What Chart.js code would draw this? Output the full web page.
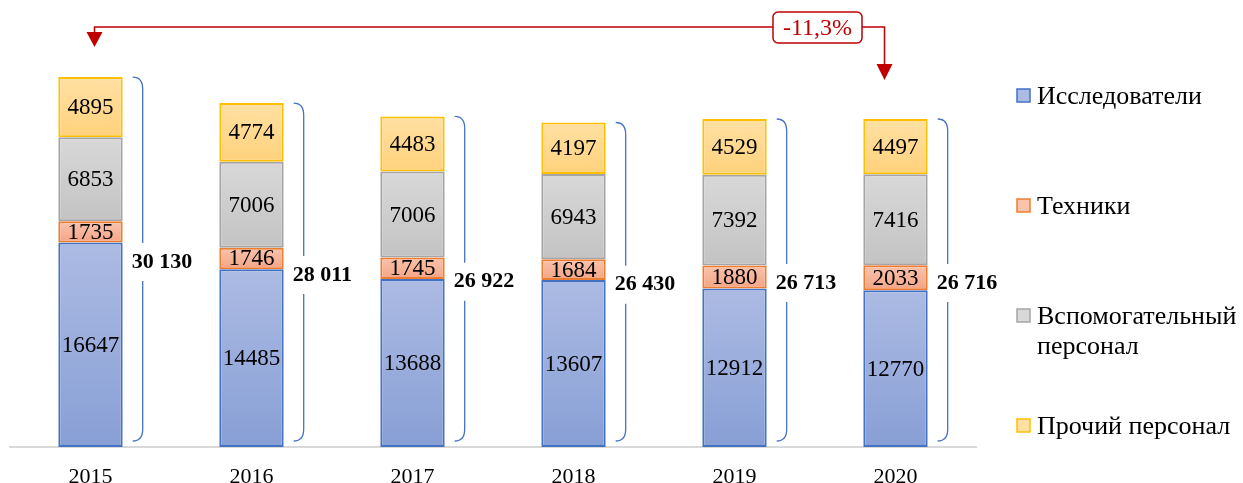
<!DOCTYPE html>
<html>
<head>
<meta charset="utf-8">
<script src="https://cdn.jsdelivr.net/npm/chart.js@4"></script>
<style>
  html, body { margin: 0; padding: 0; background: #fff; }
  #wrap { width: 1243px; height: 483px; }
</style>
</head>
<body>
<div id="wrap"><canvas id="chart"></canvas></div>
<script>
// данные диаграммы
const years = ['2015', '2016', '2017', '2018', '2019', '2020'];
const researchers = [16647, 14485, 13688, 13607, 12912, 12770];
const technicians = [1735, 1746, 1745, 1684, 1880, 2033];
const support = [6853, 7006, 7006, 6943, 7392, 7416];
const other = [4895, 4774, 4483, 4197, 4529, 4497];
const totals = ['30 130', '28 011', '26 922', '26 430', '26 713', '26 716'];
const changeLabel = '-11,3%';
const seriesNames = ['Исследователи', 'Техники', 'Вспомогательный персонал', 'Прочий персонал'];

const FONT = '"Times New Roman", "Liberation Serif", serif';

// цвета: верх градиента, низ градиента, рамка
const palette = [
  { top: '#acbbe3', bottom: '#889fd5', border: '#4472c4' },
  { top: '#f9c3ad', bottom: '#f4a584', border: '#ed7d31' },
  { top: '#d8d8d8', bottom: '#c3c3c3', border: '#a5a5a5' },
  { top: '#ffe0a3', bottom: '#ffd27c', border: '#ffc000' },
];

// градиент для каждого сегмента отдельно
function gradientFill(idx) {
  return (ctx) => {
    const chart = ctx.chart;
    const col = palette[idx];
    if (!chart.chartArea || ctx.type !== 'data') return col.top;
    const yScale = chart.scales.y;
    let start = 0;
    for (let d = 0; d < ctx.datasetIndex; d++) start += chart.data.datasets[d].data[ctx.dataIndex];
    const end = start + ctx.raw;
    const y1 = yScale.getPixelForValue(end);
    const y2 = yScale.getPixelForValue(start);
    if (!isFinite(y1) || !isFinite(y2) || y1 === y2) return col.top;
    const g = chart.ctx.createLinearGradient(0, y1, 0, y2);
    g.addColorStop(0, col.top);
    g.addColorStop(1, col.bottom);
    return g;
  };
}

const seriesData = [researchers, technicians, support, other];
const datasets = seriesData.map((values, i) => ({
  label: seriesNames[i],
  data: values,
  backgroundColor: gradientFill(i),
  borderColor: palette[i].border,
  borderWidth: 2,
  borderSkipped: false,
  barPercentage: 0.4,
  categoryPercentage: 1,
}));

// подписи значений внутри сегментов
const valueLabels = {
  id: 'valueLabels',
  afterDatasetsDraw(chart) {
    const c = chart.ctx;
    c.save();
    c.font = '23px ' + FONT;
    c.fillStyle = '#000';
    c.textAlign = 'center';
    c.textBaseline = 'middle';
    chart.data.datasets.forEach((ds, d) => {
      chart.getDatasetMeta(d).data.forEach((bar, i) => {
        c.fillText(String(ds.data[i]), bar.x, (bar.y + bar.base) / 2 + 1);
      });
    });
    c.restore();
  }
};

// фигурные скобки с итогами справа от столбцов
const totalBrackets = {
  id: 'totalBrackets',
  afterDatasetsDraw(chart) {
    const c = chart.ctx;
    const lastMeta = chart.getDatasetMeta(chart.data.datasets.length - 1);
    const base = chart.scales.y.getPixelForValue(0);
    c.save();
    lastMeta.data.forEach((bar, i) => {
      const x = bar.x + bar.width / 2 + 20;
      const top = bar.y;
      const bottom = base - 6;
      const mid = (top + bottom) / 2;
      const r = 12;
      c.strokeStyle = '#4472c4';
      c.lineWidth = 1.3;
      c.beginPath();
      c.moveTo(x - 10, top);
      c.quadraticCurveTo(x, top, x, top + r);
      c.lineTo(x, mid - 16);
      c.moveTo(x, mid + 22);
      c.lineTo(x, bottom - r);
      c.quadraticCurveTo(x, bottom, x - 10, bottom);
      c.stroke();

      c.font = 'bold 22px ' + FONT;
      c.fillStyle = '#000';
      c.textAlign = 'left';
      c.textBaseline = 'middle';
      c.fillText(totals[i], x - 11, mid + 3);
    });
    c.restore();
  }
};

// стрелка изменения 2015 -> 2020
const changeArrow = {
  id: 'changeArrow',
  afterDraw(chart) {
    const c = chart.ctx;
    const meta = chart.getDatasetMeta(0);
    const x0 = meta.data[0].x + 4;
    const x1 = meta.data[meta.data.length - 1].x - 11;
    const ly = 27;
    const red = '#c00000';
    const boxW = 89, boxH = 31, boxX = 773, boxY = ly - 15;

    c.save();
    c.strokeStyle = red;
    c.fillStyle = red;
    c.lineWidth = 1.5;
    c.beginPath();
    c.moveTo(x0, 32);
    c.lineTo(x0, ly);
    c.lineTo(x1, ly);
    c.lineTo(x1, 65);
    c.stroke();

    // наконечники
    [[x0, 32, 47], [x1, 64, 80]].forEach(([ax, yTop, yTip]) => {
      c.beginPath();
      c.moveTo(ax - 8, yTop);
      c.lineTo(ax + 8, yTop);
      c.lineTo(ax, yTip);
      c.closePath();
      c.fill();
    });

    // рамка с процентом
    c.beginPath();
    c.roundRect(boxX, boxY, boxW, boxH, 5);
    c.fillStyle = '#fff';
    c.fill();
    c.stroke();
    c.fillStyle = red;
    c.font = '24px ' + FONT;
    c.textAlign = 'center';
    c.textBaseline = 'middle';
    c.fillText(changeLabel, boxX + boxW / 2, boxY + boxH / 2 + 1);
    c.restore();
  }
};

// легенда справа
const sideLegend = {
  id: 'sideLegend',
  afterDraw(chart) {
    const c = chart.ctx;
    const xBox = 1017, xText = 1037;
    const yStart = 96, step = 110;
    c.save();
    c.font = '26px ' + FONT;
    c.textBaseline = 'middle';
    c.textAlign = 'left';
    chart.data.datasets.forEach((ds, i) => {
      const y = yStart + step * i;
      c.fillStyle = palette[i].top;
      c.strokeStyle = palette[i].border;
      c.lineWidth = 1.5;
      c.fillRect(xBox, y - 7, 13, 13);
      c.strokeRect(xBox, y - 7, 13, 13);
      // перенос длинной подписи
      const words = ds.label.split(' ');
      const lines = [];
      let line = '';
      words.forEach(w => {
        const test = line ? line + ' ' + w : w;
        if (c.measureText(test).width > 205 && line) { lines.push(line); line = w; }
        else line = test;
      });
      lines.push(line);
      c.fillStyle = '#000';
      lines.forEach((l, k) => c.fillText(l, xText, y + 1 + k * 30));
    });
    c.restore();
  }
};

new Chart(document.getElementById('chart'), {
  type: 'bar',
  data: { labels: years, datasets: datasets },
  options: {
    responsive: true,
    maintainAspectRatio: false,
    animation: false,
    layout: { padding: { left: 10, right: 267, top: 5, bottom: -24 } },
    plugins: {
      legend: { display: false },
      tooltip: { enabled: false },
    },
    scales: {
      x: {
        stacked: true,
        grid: { display: false, drawTicks: false },
        border: { display: true, color: '#d9d9d9', width: 2 },
        ticks: { color: '#000', padding: 19, font: { family: FONT, size: 22, lineHeight: 1 } },
      },
      y: {
        stacked: true,
        display: false,
        min: 0,
        max: 36000,
      },
    },
  },
  plugins: [valueLabels, totalBrackets, changeArrow, sideLegend],
});
</script>
</body>
</html>
